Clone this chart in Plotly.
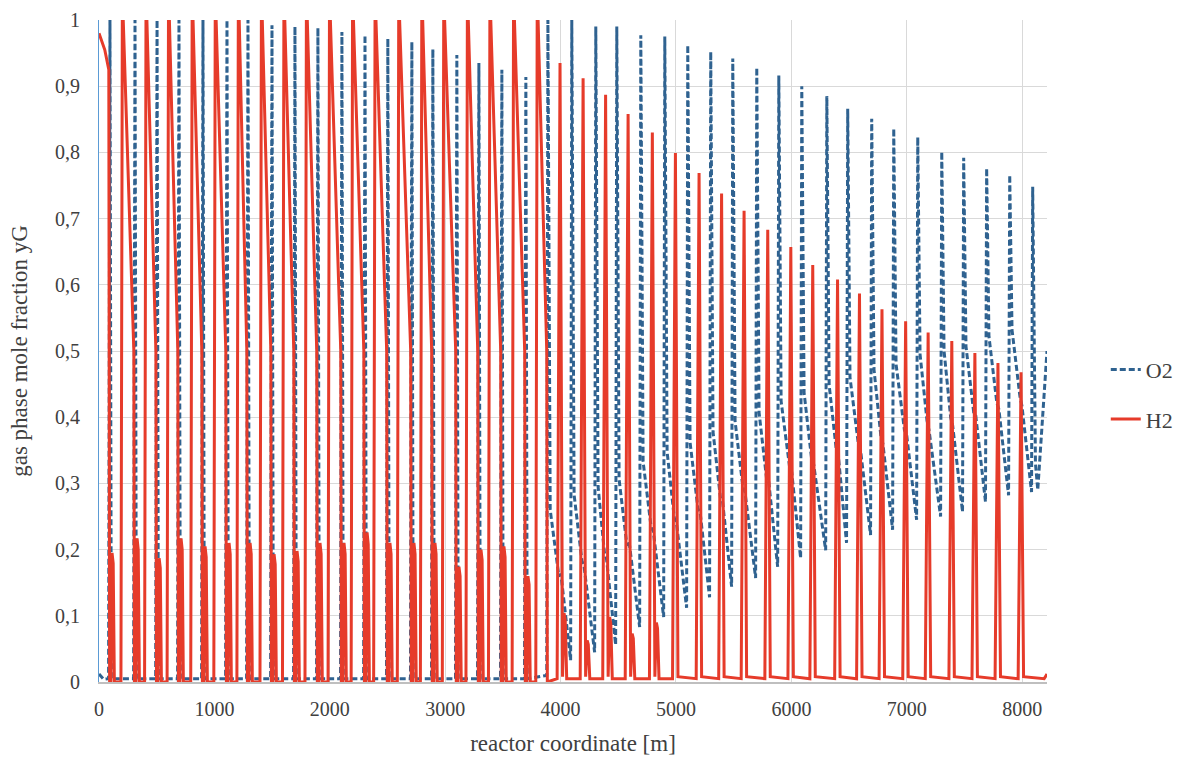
import plotly.graph_objects as go

# ---- data (reactor coordinate in m, gas phase mole fraction) ----
# H2 pulse maxima
h2_peak_x = [205, 410, 605, 810, 1010, 1210, 1410, 1605, 1800, 2000,
             2200, 2395, 2600, 2800, 2990, 3195, 3390, 3595, 3800, 3995,
             4195, 4390, 4585, 4795, 4995, 5200, 5395, 5590, 5795, 5995,
             6185, 6400, 6590, 6785, 6990, 7185, 7390, 7590, 7790, 7990]
h2_peak_y = [1.0] * 19 + [0.935, 0.912, 0.887, 0.858, 0.830, 0.799, 0.769,
                          0.738, 0.712, 0.683, 0.657, 0.630, 0.608, 0.587,
                          0.563, 0.545, 0.528, 0.515, 0.497, 0.482, 0.468]
# secondary H2 bump following each O2 pulse
h2_bump_y = [0.195, 0.217, 0.187, 0.217, 0.205, 0.21, 0.21, 0.193, 0.198,
             0.21, 0.21, 0.226, 0.21, 0.21, 0.21, 0.174, 0.20, 0.205, 0.16,
             0.104, 0.063, 0.098, 0.073, 0.09]

# O2 pulse maxima and the minimum reached just before each pulse
o2_peak_x = [95, 312, 503, 693, 901, 1109, 1291, 1499, 1698, 1897, 2105,
             2305, 2503, 2711, 2893, 3101, 3292, 3491, 3699, 3890, 4097,
             4305, 4487, 4695, 4903, 5102, 5301, 5492, 5700, 5891, 6090,
             6307, 6488, 6696, 6887, 7095, 7303, 7493, 7692, 7892, 8091]
o2_peak_y = [1.0, 1.0, 1.0, 1.0, 1.0, 1.0, 1.0, 0.992, 0.99, 0.988, 0.982,
             0.977, 0.972, 0.967, 0.956, 0.947, 0.935, 0.925, 0.914, 1.0,
             1.0, 0.99, 0.99, 0.977, 0.975, 0.962, 0.952, 0.942, 0.928,
             0.916, 0.900, 0.885, 0.866, 0.851, 0.836, 0.823, 0.801, 0.792,
             0.776, 0.766, 0.748]
o2_min_y = [0.005] * 19 + [0.01, 0.033, 0.045, 0.056, 0.083, 0.098, 0.112,
                           0.128, 0.144, 0.157, 0.174, 0.187, 0.199, 0.21,
                           0.222, 0.23, 0.245, 0.25, 0.257, 0.272, 0.282,
                           0.287]

x_end = 8215
h2_start = [0.98, 0.955, 0.925]
h2_end = 0.012
o2_tail_y = [0.33, 0.29, 0.5]

# ---- build the two profiles ----
h2_x, h2_y = [0, 50, 85, 92], h2_start + [0.0]
for k, (xp, yp) in enumerate(zip(h2_peak_x, h2_peak_y)):
    if k < 19:
        xb = o2_peak_x[k]
        h2_x += [xb + 8, xb + 18, xb + 28, xb + 38]
        h2_y += [0.0, h2_bump_y[k], h2_bump_y[k] * 0.92, 0.0]
        xn = o2_peak_x[k + 1]
        h2_x += [xp - 15, xp - 3, xp + 5, xn - 10, xn - 5]
        h2_y += [0.0, 1.0, 1.0, 0.5, 0.0]
    else:
        h2_x += [xp - 25, xp, xp + 22]
        h2_y += [0.005, yp, 0.008]
        if k < len(h2_bump_y):
            h2_x += [xp + 35, xp + 45, xp + 58]
            h2_y += [h2_bump_y[k], h2_bump_y[k] * 0.9, 0.005]
h2_x += [x_end - 25, x_end]
h2_y += [0.005, h2_end]

o2_x, o2_y = [0, 40], [0.012, 0.004]
last = len(o2_peak_x) - 1
for j, (xb, yb, ym) in enumerate(zip(o2_peak_x, o2_peak_y, o2_min_y)):
    if j < 19:
        o2_x += [xb - 12, xb, xb + 12]
        o2_y += [0.005, yb, 0.005]
        continue
    o2_x += [xb - 10, xb]
    o2_y += [ym, yb]
    if j < last:
        xr = h2_peak_x[j]
        yn = o2_min_y[j + 1]
        o2_x += [xb + 20, xr - 10, xr + 8]
        o2_y += [ym + 0.25, ym + 0.15, yn + 0.13]
o2_x += [8115, 8135, x_end]
o2_y += o2_tail_y

fig = go.Figure()
fig.add_trace(go.Scatter(x=o2_x, y=o2_y, mode="lines", name="O2",
                         legendgroup="o2",
                         line=dict(color="#2f6290", width=3, dash="6px,3px")))
fig.add_trace(go.Scatter(x=h2_x, y=h2_y, mode="lines", name="H2",
                         legendgroup="h2",
                         line=dict(color="#e63b2a", width=3)))

serif = "Liberation Serif"
ink = "#404040"
y_ticks = [i / 10 for i in range(11)]
y_text = ["0"] + [f"0,{i}" for i in range(1, 10)] + ["1"]

fig.update_layout(
    width=1184, height=757,
    margin=dict(l=99, r=137, t=20, b=75, autoexpand=False),
    paper_bgcolor="white", plot_bgcolor="white",
    font=dict(family=serif, size=20, color=ink),
    showlegend=True,
    legend=dict(x=1.062, y=0.434, xanchor="left", yanchor="middle",
                font=dict(family=serif, size=22, color=ink),
                tracegroupgap=18, bgcolor="rgba(0,0,0,0)"),
    xaxis=dict(range=[0, x_end], tickvals=list(range(0, 8001, 1000)),
               showgrid=True, gridcolor="#d9d9d9", gridwidth=1,
               showline=True, linecolor="#bfbfbf", linewidth=2,
               zeroline=False, ticks="", ticklabelstandoff=8,
               automargin=False,
               tickfont=dict(family=serif, size=20, color=ink),
               title=dict(text="reactor coordinate [m]",
                          font=dict(family=serif, size=23, color=ink),
                          standoff=16)),
    yaxis=dict(range=[0, 1], tickvals=y_ticks, ticktext=y_text,
               showgrid=True, gridcolor="#d9d9d9", gridwidth=1,
               showline=True, linecolor="#5b9bd5", linewidth=1,
               zeroline=False, ticks="", ticklabelstandoff=14,
               automargin=False,
               tickfont=dict(family=serif, size=20, color=ink),
               title=dict(text="gas phase mole fraction yG",
                          font=dict(family=serif, size=23, color=ink),
                          standoff=20)),
)

fig.write_html("out.html")
